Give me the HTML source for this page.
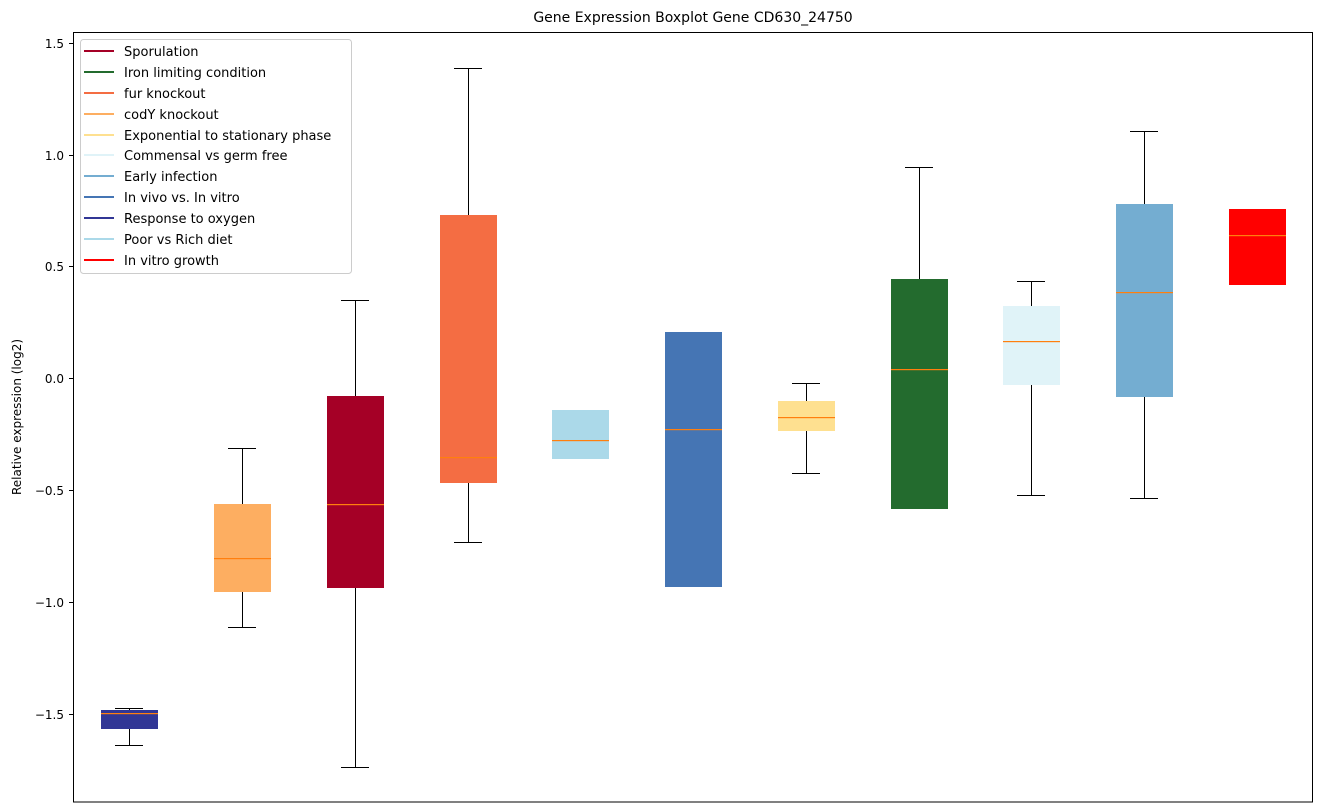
<!DOCTYPE html>
<html><head><style>body{margin:0;background:#fff}svg{display:block;font-family:"DejaVu Sans","Liberation Sans",sans-serif}</style></head><body>
<svg width="1322" height="812" xmlns="http://www.w3.org/2000/svg">
<rect width="1322" height="812" fill="#fff"/>
<text x="693" y="22" font-size="14" text-anchor="middle" fill="#000">Gene Expression Boxplot Gene CD630_24750</text>
<text transform="translate(21,417) rotate(-90)" font-size="12" text-anchor="middle">Relative expression (log2)</text>
<g font-size="12" text-anchor="end" fill="#000">
<text x="64" y="48">1.5</text><text x="64" y="160">1.0</text><text x="64" y="271">0.5</text><text x="64" y="383">0.0</text>
<text x="64" y="495">−0.5</text><text x="64" y="607">−1.0</text><text x="64" y="719">−1.5</text>
</g>
<g stroke="#000" stroke-width="1">
<line x1="69" y1="43.5" x2="73" y2="43.5"/><line x1="69" y1="155.5" x2="73" y2="155.5"/><line x1="69" y1="266.5" x2="73" y2="266.5"/><line x1="69" y1="378.5" x2="73" y2="378.5"/><line x1="69" y1="490.5" x2="73" y2="490.5"/><line x1="69" y1="602.5" x2="73" y2="602.5"/><line x1="69" y1="714.5" x2="73" y2="714.5"/>
</g>
<g stroke="#000" stroke-width="1">
<line x1="129.5" y1="708" x2="129.5" y2="745"/><line x1="115" y1="708.5" x2="143" y2="708.5"/><line x1="115" y1="745.5" x2="143" y2="745.5"/>
<line x1="242.5" y1="448" x2="242.5" y2="627"/><line x1="228" y1="448.5" x2="256" y2="448.5"/><line x1="228" y1="627.5" x2="256" y2="627.5"/>
<line x1="355.5" y1="300" x2="355.5" y2="767"/><line x1="341" y1="300.5" x2="369" y2="300.5"/><line x1="341" y1="767.5" x2="369" y2="767.5"/>
<line x1="468.5" y1="68" x2="468.5" y2="542"/><line x1="454" y1="68.5" x2="482" y2="68.5"/><line x1="454" y1="542.5" x2="482" y2="542.5"/>
<line x1="806.5" y1="383" x2="806.5" y2="473"/><line x1="792" y1="383.5" x2="820" y2="383.5"/><line x1="792" y1="473.5" x2="820" y2="473.5"/>
<line x1="919.5" y1="167" x2="919.5" y2="300"/><line x1="905" y1="167.5" x2="933" y2="167.5"/>
<line x1="1031.5" y1="281" x2="1031.5" y2="495"/><line x1="1017" y1="281.5" x2="1045" y2="281.5"/><line x1="1017" y1="495.5" x2="1045" y2="495.5"/>
<line x1="1144.5" y1="131" x2="1144.5" y2="498"/><line x1="1130" y1="131.5" x2="1158" y2="131.5"/><line x1="1130" y1="498.5" x2="1158" y2="498.5"/>
</g>
<g>
<rect x="101" y="710" width="57" height="19" fill="#313695"/>
<rect x="214" y="504" width="57" height="88" fill="#fdae61"/>
<rect x="327" y="396" width="57" height="192" fill="#a50026"/>
<rect x="440" y="215" width="57" height="268" fill="#f46d43"/>
<rect x="552" y="410" width="57" height="49" fill="#abd9e9"/>
<rect x="665" y="332" width="57" height="255" fill="#4575b4"/>
<rect x="778" y="401" width="57" height="30" fill="#fee090"/>
<rect x="891" y="279" width="57" height="230" fill="#236b2e"/>
<rect x="1003" y="306" width="57" height="79" fill="#e0f3f8"/>
<rect x="1116" y="204" width="57" height="193" fill="#74add1"/>
<rect x="1229" y="209" width="57" height="76" fill="#ff0000"/>
</g>
<g fill="#ff7f0e">
<rect x="101" y="713" width="57" height="1.2"/><rect x="214" y="558" width="57" height="1.2"/><rect x="327" y="504" width="57" height="1.2"/><rect x="440" y="457" width="57" height="1.2"/><rect x="552" y="440" width="57" height="1.2"/><rect x="665" y="429" width="57" height="1.2"/><rect x="778" y="417" width="57" height="1.2"/><rect x="891" y="369" width="57" height="1.2"/><rect x="1003" y="341" width="57" height="1.2"/><rect x="1116" y="292" width="57" height="1.2"/><rect x="1229" y="235" width="57" height="1.2"/>
</g>
<rect x="73.5" y="32.5" width="1239" height="769.5" fill="none" stroke="#000" stroke-width="1"/>
<rect x="80.5" y="39.5" width="271" height="234" rx="3" fill="#fff" fill-opacity="0.8" stroke="#ccc"/>
<g stroke-width="2">
<line x1="84" y1="51" x2="114" y2="51" stroke="#a50026"/>
<line x1="84" y1="72" x2="114" y2="72" stroke="#236b2e"/>
<line x1="84" y1="93" x2="114" y2="93" stroke="#f46d43"/>
<line x1="84" y1="114" x2="114" y2="114" stroke="#fdae61"/>
<line x1="84" y1="135" x2="114" y2="135" stroke="#fee090"/>
<line x1="84" y1="155" x2="114" y2="155" stroke="#e0f3f8"/>
<line x1="84" y1="176" x2="114" y2="176" stroke="#74add1"/>
<line x1="84" y1="197" x2="114" y2="197" stroke="#4575b4"/>
<line x1="84" y1="218" x2="114" y2="218" stroke="#313695"/>
<line x1="84" y1="239" x2="114" y2="239" stroke="#abd9e9"/>
<line x1="84" y1="260" x2="114" y2="260" stroke="#ff0000"/>
</g>
<g font-size="13" fill="#000">
<text x="124" y="56">Sporulation</text>
<text x="124" y="77">Iron limiting condition</text>
<text x="124" y="98">fur knockout</text>
<text x="124" y="119">codY knockout</text>
<text x="124" y="140">Exponential to stationary phase</text>
<text x="124" y="160">Commensal vs germ free</text>
<text x="124" y="181">Early infection</text>
<text x="124" y="202">In vivo vs. In vitro</text>
<text x="124" y="223">Response to oxygen</text>
<text x="124" y="244">Poor vs Rich diet</text>
<text x="124" y="265">In vitro growth</text>
</g>
</svg>
</body></html>
